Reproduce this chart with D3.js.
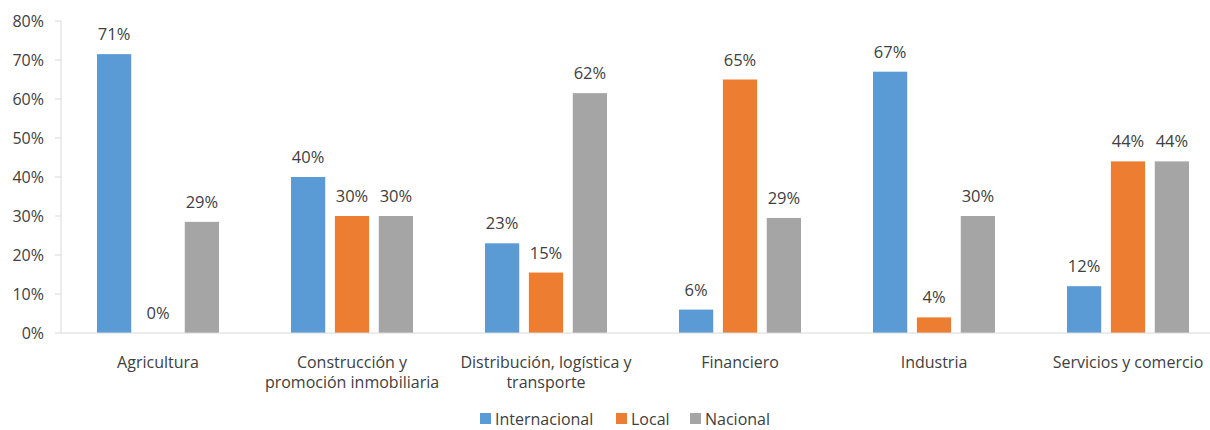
<!DOCTYPE html>
<html>
<head>
<meta charset="utf-8">
<script src="https://cdn.jsdelivr.net/npm/d3@7"></script>
<style>
  body { margin: 0; background: #fff; }
  svg text { font-family: "Open Sans", "Noto Sans", sans-serif; fill: #404040; }
</style>
</head>
<body>
<div id="chart"></div>
<script>
// data
var categories = [
    ["Agricultura"],
    ["Construcción y", "promoción inmobiliaria"],
    ["Distribución, logística y", "transporte"],
    ["Financiero"],
    ["Industria"],
    ["Servicios y comercio"]
];
var seriesNames = ["Internacional", "Local", "Nacional"];
var internacional = [71.5, 40, 23, 6, 67, 12];
var local = [0, 30, 15.5, 65, 4, 44];
var nacional = [28.5, 30, 61.5, 29.5, 30, 44];
var labelsInt = ["71%", "40%", "23%", "6%", "67%", "12%"];
var labelsLoc = ["0%", "30%", "15%", "65%", "4%", "44%"];
var labelsNac = ["29%", "30%", "62%", "29%", "30%", "44%"];
var yTicks = [0, 10, 20, 30, 40, 50, 60, 70, 80];

var colors = ["#5b9bd5", "#ed7d31", "#a5a5a5"];
var seriesValues = [internacional, local, nacional];
var seriesLabels = [labelsInt, labelsLoc, labelsNac];

var width = 1210,
    height = 430;

var plotLeft = 61, plotTop = 21, plotBottom = 333;
var groupStep = 194;

var svg = d3.select("#chart").append("svg")
    .attr("width", width)
    .attr("height", height);

var x = d3.scaleBand()
    .domain(d3.range(categories.length))
    .range([plotLeft, plotLeft + groupStep * categories.length]);

var xInner = d3.scaleBand()
    .domain(d3.range(seriesNames.length))
    .range([0, 122])
    .paddingInner(0.22);

var y = d3.scaleLinear()
    .domain([0, 80])
    .range([plotBottom, plotTop]);

// y axis
svg.append("line")
    .attr("x1", plotLeft).attr("x2", plotLeft)
    .attr("y1", plotTop).attr("y2", plotBottom)
    .attr("stroke", "#d9d9d9");

svg.selectAll(".ytick")
    .data(yTicks)
    .enter().append("line")
    .attr("x1", plotLeft - 6).attr("x2", plotLeft)
    .attr("y1", function(d) { return y(d); })
    .attr("y2", function(d) { return y(d); })
    .attr("stroke", "#d9d9d9");

svg.selectAll(".ylabel")
    .data(yTicks)
    .enter().append("text")
    .attr("x", 44)
    .attr("y", function(d) { return y(d); })
    .attr("dy", "0.35em")
    .attr("text-anchor", "end")
    .style("font-size", "16px")
    .text(function(d) { return d + "%"; });

// bars
var groups = svg.selectAll(".group")
    .data(categories)
    .enter().append("g")
    .attr("transform", function(d, i) {
        return "translate(" + (x(i) + x.bandwidth() / 2 - 61) + ",0)";
    });

groups.each(function(cat, ci) {
    var g = d3.select(this);
    seriesValues.forEach(function(vals, si) {
        g.append("rect")
            .attr("x", xInner(si))
            .attr("y", y(vals[ci]))
            .attr("width", xInner.bandwidth())
            .attr("height", plotBottom - y(vals[ci]))
            .attr("fill", colors[si]);
        g.append("text")
            .attr("x", xInner(si) + xInner.bandwidth() / 2)
            .attr("y", y(vals[ci]) - 14)
            .attr("text-anchor", "middle")
            .style("font-size", "16.5px")
            .text(seriesLabels[si][ci]);
    });
});

// x axis
svg.append("line")
    .attr("x1", plotLeft).attr("x2", width)
    .attr("y1", plotBottom).attr("y2", plotBottom)
    .attr("stroke", "#d9d9d9");

var catText = svg.selectAll(".cat")
    .data(categories)
    .enter().append("text")
    .attr("text-anchor", "middle")
    .style("font-size", "16px")
    .attr("x", function(d, i) { return x(i) + x.bandwidth() / 2; })
    .attr("y", 368);

catText.selectAll("tspan")
    .data(function(d) { return d; })
    .enter().append("tspan")
    .attr("x", function() { return this.parentNode.getAttribute("x"); })
    .attr("dy", function(d, i) { return i == 0 ? 0 : 20; })
    .text(function(d) { return d; });

// legend
var legendX = [480, 616, 690];
var legend = svg.selectAll(".legend")
    .data(seriesNames)
    .enter().append("g")
    .attr("transform", function(d, i) { return "translate(" + legendX[i] + ",413)"; });

legend.append("rect")
    .attr("width", 11).attr("height", 11)
    .attr("fill", function(d, i) { return colors[i]; });

legend.append("text")
    .attr("x", 15)
    .attr("y", 6)
    .attr("dy", "0.35em")
    .style("font-size", "16px")
    .text(function(d) { return d; });
</script>
</body>
</html>
